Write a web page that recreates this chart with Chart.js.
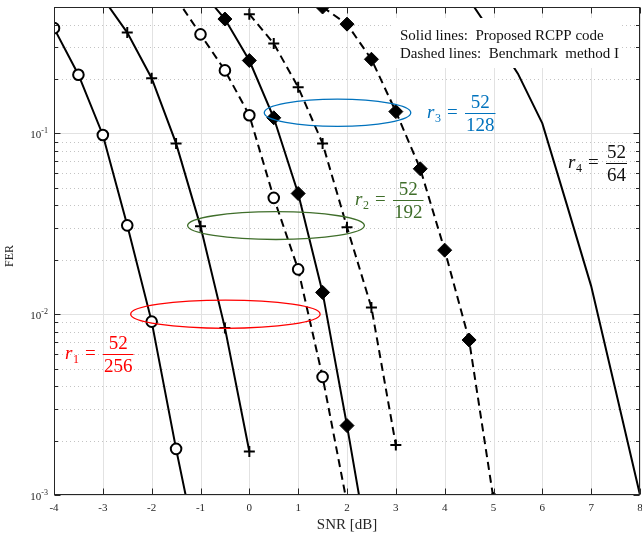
<!DOCTYPE html>
<html>
<head>
<meta charset="utf-8">
<script src="https://cdn.jsdelivr.net/npm/chart.js@4.4.0/dist/chart.umd.min.js"></script>
<style>
  html, body { margin: 0; padding: 0; background: #fff; }
</style>
</head>
<body>
<canvas id="ferChart" width="642" height="533"></canvas>
<script>
// FER vs SNR curves
const snrR1Circle = [-4, -3.5, -3, -2.5, -2, -1.5, -1];
const ferR1Circle = [0.382, 0.211, 0.098, 0.031, 0.0091, 0.0018, 0.0004];

const snrR1Plus = [-3, -2.5, -2, -1.5, -1, -0.5, 0];
const ferR1Plus = [0.56, 0.361, 0.202, 0.088, 0.0306, 0.0084, 0.00174];

const snrR2Circle = [-1.5, -1, -0.5, 0, 0.5, 1, 1.5, 2];
const ferR2Circle = [0.56, 0.353, 0.223, 0.126, 0.044, 0.0177, 0.0045, 0.0009];

const snrR2Diamond = [-1, -0.5, 0, 0.5, 1, 1.5, 2, 2.5];
const ferR2Diamond = [0.62, 0.429, 0.253, 0.122, 0.0465, 0.0132, 0.00242, 0.0004];

const snrR3Plus = [0, 0.5, 1, 1.5, 2, 2.5, 3];
const ferR3Plus = [0.456, 0.314, 0.180, 0.088, 0.0303, 0.0109, 0.00189];

const snrR3Diamond = [1.5, 2, 2.5, 3, 3.5, 4, 4.5, 5];
const ferR3Diamond = [0.5, 0.402, 0.257, 0.132, 0.0637, 0.0226, 0.0072, 0.00095];

const snrR4 = [4.5, 5, 5.5, 6, 6.5, 7, 7.5, 8];
const ferR4 = [0.55, 0.347, 0.214, 0.1136, 0.0405, 0.0143, 0.0038, 0.001];

const xTicks = [-4, -3, -2, -1, 0, 1, 2, 3, 4, 5, 6, 7, 8];
const yDecades = [-3, -2, -1];

const SERIF = '"Liberation Serif", "Times New Roman", serif';
const AXIS_COL = '#262626';

function pts(xs, ys) {
  return xs.map((x, i) => ({ x: x, y: ys[i] }));
}

function series(xs, ys, dashed, marker) {
  const ds = {
    data: pts(xs, ys),
    borderColor: '#000',
    borderWidth: 2,
    borderDash: dashed ? [8, 5] : [],
    tension: 0,
    pointBorderColor: '#000',
    pointBorderWidth: 2,
    pointRadius: 0
  };
  if (marker === 'circle') {
    ds.pointStyle = 'circle';
    ds.pointRadius = 5.3;
    ds.pointBackgroundColor = '#fff';
  } else if (marker === 'plus') {
    ds.pointStyle = 'cross';
    ds.pointRadius = 5.5;
  } else if (marker === 'diamond') {
    ds.pointStyle = 'rectRot';
    ds.pointRadius = 7;
    ds.pointBorderWidth = 1;
    ds.pointBackgroundColor = '#000';
  }
  return ds;
}

// ellipses grouping the curves (centre, half width in dB, half height in decades)
const rings = [
  { cx: 1.806, rx: 1.5, cy: 0.13, dh: 0.075, color: '#0072bd' },
  { cx: 0.546, rx: 1.81, cy: 0.0309, dh: 0.077, color: '#3f6e2a' },
  { cx: -0.49, rx: 1.94, cy: 0.0100, dh: 0.078, color: '#ff0000' }
];

// rate labels: left of "r", y of the fraction bar
const rates = [
  { x: 65, y: 354, sub: '1', num: '52', den: '256', color: '#ff0000' },
  { x: 355, y: 200, sub: '2', num: '52', den: '192', color: '#3f6e2a' },
  { x: 427, y: 113, sub: '3', num: '52', den: '128', color: '#0072bd' },
  { x: 568, y: 163, sub: '4', num: '52', den: '64', color: '#111' }
];

function drawRate(ctx, r) {
  ctx.save();
  ctx.fillStyle = r.color;
  ctx.strokeStyle = r.color;
  ctx.textBaseline = 'alphabetic';
  ctx.textAlign = 'left';
  ctx.font = 'italic 19px ' + SERIF;
  ctx.fillText('r', r.x, r.y + 5);
  ctx.font = '12px ' + SERIF;
  ctx.fillText(r.sub, r.x + 8, r.y + 9);
  ctx.font = '19px ' + SERIF;
  ctx.textBaseline = 'middle';
  ctx.fillText('=', r.x + 20, r.y);
  ctx.textBaseline = 'alphabetic';
  ctx.textAlign = 'center';
  const w = Math.max(ctx.measureText(r.num).width, ctx.measureText(r.den).width) + 2;
  const cx = r.x + 38 + w / 2;
  ctx.fillText(r.num, cx, r.y - 5);
  ctx.fillText(r.den, cx, r.y + 18);
  ctx.lineWidth = 1;
  ctx.beginPath();
  ctx.moveTo(cx - w / 2, r.y + 0.5);
  ctx.lineTo(cx + w / 2, r.y + 0.5);
  ctx.stroke();
  ctx.restore();
}

const framePlugin = {
  id: 'frame',
  beforeDatasetsDraw(chart) {
    const { ctx, chartArea: a, scales: { x, y } } = chart;
    ctx.save();
    // minor y grid, dotted
    ctx.strokeStyle = '#c4c4c4';
    ctx.lineWidth = 1;
    ctx.setLineDash([1, 3]);
    yDecades.forEach(d => {
      for (let k = 2; k <= 9; k++) {
        const v = k * Math.pow(10, d);
        if (v >= y.max) continue;
        const py = Math.round(y.getPixelForValue(v)) + 0.5;
        ctx.beginPath();
        ctx.moveTo(a.left, py);
        ctx.lineTo(a.right, py);
        ctx.stroke();
      }
    });
    ctx.setLineDash([]);
    // major grid
    ctx.strokeStyle = '#e2e2e2';
    xTicks.forEach(v => {
      const px = Math.round(x.getPixelForValue(v)) + 0.5;
      ctx.beginPath();
      ctx.moveTo(px, a.top);
      ctx.lineTo(px, a.bottom);
      ctx.stroke();
    });
    yDecades.forEach(d => {
      const py = Math.round(y.getPixelForValue(Math.pow(10, d))) + 0.5;
      ctx.beginPath();
      ctx.moveTo(a.left, py);
      ctx.lineTo(a.right, py);
      ctx.stroke();
    });
    ctx.restore();
  },
  afterDatasetsDraw(chart) {
    const { ctx, chartArea: a, scales: { x, y } } = chart;
    ctx.save();

    // legend text box
    ctx.fillStyle = '#fff';
    ctx.fillRect(392, 18, 230, 50);
    ctx.fillStyle = '#111';
    ctx.font = '15px ' + SERIF;
    ctx.textAlign = 'left';
    ctx.textBaseline = 'middle';
    ctx.fillText('Solid lines:  Proposed RCPP code', 400, 36);
    ctx.fillText('Dashed lines:  Benchmark  method I', 400, 54);

    // ellipses
    rings.forEach(e => {
      const x1 = x.getPixelForValue(e.cx - e.rx);
      const x2 = x.getPixelForValue(e.cx + e.rx);
      const y1 = y.getPixelForValue(e.cy * Math.pow(10, e.dh));
      const y2 = y.getPixelForValue(e.cy / Math.pow(10, e.dh));
      ctx.strokeStyle = e.color;
      ctx.lineWidth = 1.3;
      ctx.beginPath();
      ctx.ellipse((x1 + x2) / 2, (y1 + y2) / 2, Math.abs(x2 - x1) / 2, Math.abs(y2 - y1) / 2, 0, 0, Math.PI * 2);
      ctx.stroke();
    });

    rates.forEach(r => drawRate(ctx, r));

    // axes box and ticks
    const L = Math.round(a.left) + 0.5, R = Math.round(a.right) - 0.5;
    const T = Math.round(a.top) + 0.5, B = Math.round(a.bottom) - 0.5;
    ctx.strokeStyle = AXIS_COL;
    ctx.lineWidth = 1;
    ctx.strokeRect(L, T, R - L, B - T);
    ctx.beginPath();
    xTicks.forEach(v => {
      const px = Math.round(x.getPixelForValue(v)) + 0.5;
      ctx.moveTo(px, B); ctx.lineTo(px, B - 6);
      ctx.moveTo(px, T); ctx.lineTo(px, T + 6);
    });
    yDecades.forEach(d => {
      for (let k = 1; k <= 9; k++) {
        const v = k * Math.pow(10, d);
        if (v >= y.max) continue;
        const len = k === 1 ? 6 : 3.5;
        const py = Math.round(y.getPixelForValue(v)) + 0.5;
        ctx.moveTo(L, py); ctx.lineTo(L + len, py);
        ctx.moveTo(R, py); ctx.lineTo(R - len, py);
      }
    });
    ctx.stroke();

    // tick labels
    ctx.fillStyle = AXIS_COL;
    ctx.font = '11px ' + SERIF;
    ctx.textAlign = 'center';
    ctx.textBaseline = 'middle';
    xTicks.forEach(v => {
      ctx.fillText(String(v), x.getPixelForValue(v), a.bottom + 13);
    });
    yDecades.forEach(d => {
      const py = y.getPixelForValue(Math.pow(10, d));
      const exp = String(d);
      ctx.font = '8px ' + SERIF;
      const ew = ctx.measureText(exp).width;
      ctx.textAlign = 'left';
      ctx.textBaseline = 'alphabetic';
      ctx.fillText(exp, 48 - ew, py);
      ctx.font = '11px ' + SERIF;
      ctx.textAlign = 'right';
      ctx.fillText('10', 48 - ew, py + 5);
    });

    // axis titles
    ctx.font = '15px ' + SERIF;
    ctx.textAlign = 'center';
    ctx.textBaseline = 'middle';
    ctx.fillText('SNR [dB]', (a.left + a.right) / 2, 525);
    ctx.font = '12px ' + SERIF;
    ctx.translate(10, 256);
    ctx.rotate(-Math.PI / 2);
    ctx.fillText('FER', 0, 0);
    ctx.restore();
  }
};

new Chart(document.getElementById('ferChart'), {
  type: 'line',
  data: {
    datasets: [
      series(snrR1Circle, ferR1Circle, false, 'circle'),
      series(snrR1Plus, ferR1Plus, false, 'plus'),
      series(snrR2Circle, ferR2Circle, true, 'circle'),
      series(snrR2Diamond, ferR2Diamond, false, 'diamond'),
      series(snrR3Plus, ferR3Plus, true, 'plus'),
      series(snrR3Diamond, ferR3Diamond, true, 'diamond'),
      series(snrR4, ferR4, false, 'none')
    ]
  },
  options: {
    responsive: false,
    animation: false,
    devicePixelRatio: 1,
    layout: { autoPadding: false, padding: { top: 7, right: 2, left: 0, bottom: 0 } },
    plugins: { legend: { display: false }, tooltip: { enabled: false } },
    scales: {
      x: {
        type: 'linear',
        min: -4,
        max: 8,
        ticks: { display: false },
        grid: { display: false },
        border: { display: false },
        afterFit(scale) { scale.height = 38; }
      },
      y: {
        type: 'logarithmic',
        min: 0.001,
        max: 0.5,
        ticks: { display: false },
        grid: { display: false },
        border: { display: false },
        afterFit(scale) { scale.width = 54; }
      }
    }
  },
  plugins: [framePlugin]
});
</script>
</body>
</html>
